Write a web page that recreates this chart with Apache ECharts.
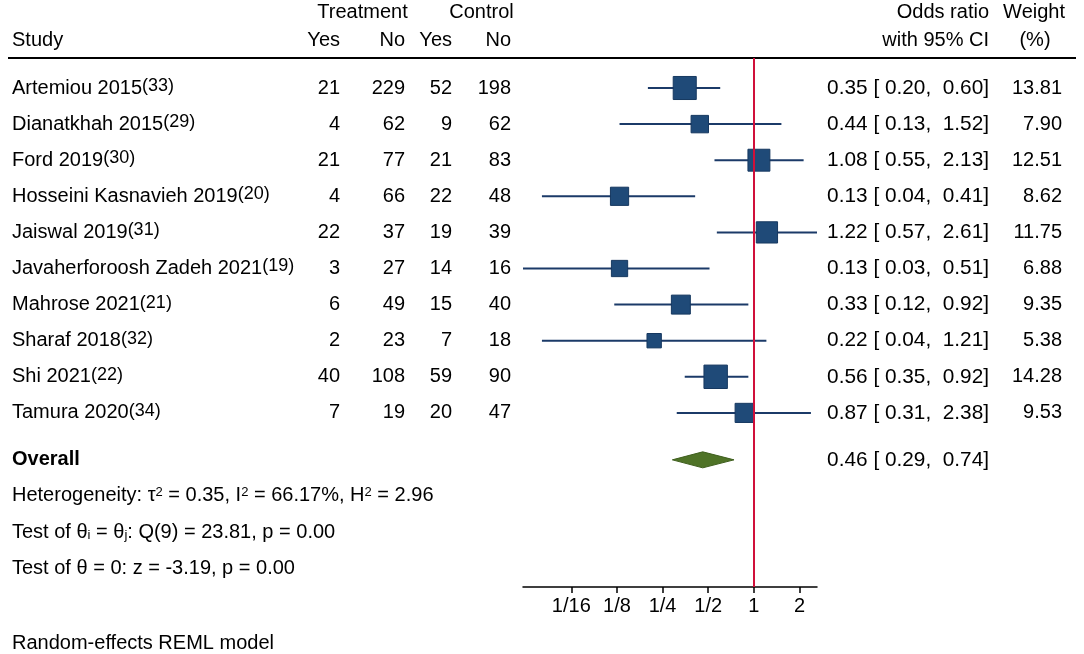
<!DOCTYPE html>
<html>
<head>
<meta charset="utf-8">
<script src="https://cdn.jsdelivr.net/npm/echarts@6/dist/echarts.min.js"></script>
<style>
  html, body { margin: 0; padding: 0; background: #fff; }
  #chart { width: 1084px; height: 654px; }
</style>
</head>
<body>
<div id="chart"></div>
<script>
// study table
var studies = ['Artemiou 2015', 'Dianatkhah 2015', 'Ford 2019', 'Hosseini Kasnavieh 2019', 'Jaiswal 2019',
    'Javaherforoosh Zadeh 2021', 'Mahrose 2021', 'Sharaf 2018', 'Shi 2021', 'Tamura 2020'];
var refs = ['33', '29', '30', '20', '31', '19', '21', '32', '22', '34'];
var treatYes = [21, 4, 21, 4, 22, 3, 6, 2, 40, 7];
var treatNo = [229, 62, 77, 66, 37, 27, 49, 23, 108, 19];
var ctrlYes = [52, 9, 21, 22, 19, 14, 15, 7, 59, 20];
var ctrlNo = [198, 62, 83, 48, 39, 16, 40, 18, 90, 47];
var oddsRatio = [0.35, 0.44, 1.08, 0.13, 1.22, 0.13, 0.33, 0.22, 0.56, 0.87];
var ciLow = [0.20, 0.13, 0.55, 0.04, 0.57, 0.03, 0.12, 0.04, 0.35, 0.31];
var ciHigh = [0.60, 1.52, 2.13, 0.41, 2.61, 0.51, 0.92, 1.21, 0.92, 2.38];
var weight = [13.81, 7.90, 12.51, 8.62, 11.75, 6.88, 9.35, 5.38, 14.28, 9.53];

// overall: estimate, low, high
var overallEst = [0.46, 0.29, 0.74];
var hetStats = [0.35, 66.17, 2.96];   // tau2, I2 (%), H2
var testQ = [9, 23.81, 0.00];        // df, Q, p
var testZ = [-3.19, 0.00];           // z, p

var tickValues = [1 / 16, 1 / 8, 1 / 4, 1 / 2, 1, 2];
var tickLabels = ['1/16', '1/8', '1/4', '1/2', '1', '2'];

// layout
var FONT = "'Liberation Sans', Arial, sans-serif";
var FS = 20;
var ROW_PX = 36.1;       // row spacing
var ROW0_PX = 88;        // first study row
var OVERALL_ROW = 10.3;
var col = { study: 12, tYes: 340, tNo: 405, cYes: 452, cNo: 511, ci: 989, w: 1062 };

function rowAt(px) { return (px - ROW0_PX) / ROW_PX; }
function f2(v) { return v.toFixed(2); }
function ciText(e, l, h) { return f2(e) + ' [ ' + f2(l) + ',  ' + f2(h) + ']'; }

var rich = {
    n: { fontSize: FS, fontFamily: FONT, fill: '#000' },
    c: { fontSize: 20.8, fontFamily: FONT, fill: '#000' },
    s: { fontSize: 18, fontFamily: FONT, fill: '#000', verticalAlign: 'top', padding: [0, 0, 4, 0] },
    p: { fontSize: 13, fontFamily: FONT, fill: '#000', verticalAlign: 'top' },
    b: { fontSize: 13, fontFamily: FONT, fill: '#000', verticalAlign: 'bottom' }
};

// text items for the table
var texts = [];
function addText(x, row, text, align, bold) {
    texts.push({ value: [x, row], text: text, align: align, bold: !!bold });
}
var hRow1 = rowAt(12), hRow2 = rowAt(40);
addText((col.tYes + col.tNo) / 2 - 10, hRow1, '{n|Treatment}', 'center');
addText((col.cYes + col.cNo) / 2, hRow1, '{n|Control}', 'center');
addText(col.study, hRow2, '{n|Study}', 'left');
addText(col.tYes, hRow2, '{n|Yes}', 'right');
addText(col.tNo, hRow2, '{n|No}', 'right');
addText(col.cYes, hRow2, '{n|Yes}', 'right');
addText(col.cNo, hRow2, '{n|No}', 'right');
addText(col.ci, hRow1, '{n|Odds ratio}', 'right');
addText(col.ci, hRow2, '{n|with 95% CI}', 'right');
addText(col.w + 3, hRow1, '{n|Weight}', 'right');
addText(col.w - 27, hRow2, '{n|(%)}', 'center');

studies.forEach(function (s, i) {
    addText(col.study, i, '{n|' + s + '}{s|(' + refs[i] + ')}', 'left');
    addText(col.tYes, i, '{n|' + treatYes[i] + '}', 'right');
    addText(col.tNo, i, '{n|' + treatNo[i] + '}', 'right');
    addText(col.cYes, i, '{n|' + ctrlYes[i] + '}', 'right');
    addText(col.cNo, i, '{n|' + ctrlNo[i] + '}', 'right');
    addText(col.ci, i, '{c|' + ciText(oddsRatio[i], ciLow[i], ciHigh[i]) + '}', 'right');
    addText(col.w, i, '{n|' + f2(weight[i]) + '}', 'right');
});

addText(col.study, OVERALL_ROW, 'Overall', 'left', true);
addText(col.ci, OVERALL_ROW, '{c|' + ciText(overallEst[0], overallEst[1], overallEst[2]) + '}', 'right');
addText(col.study, OVERALL_ROW + 1,
    '{n|Heterogeneity: τ}{p|2}{n| = ' + f2(hetStats[0]) + ', I}{p|2}{n| = ' + f2(hetStats[1]) +
    '%, H}{p|2}{n| = ' + f2(hetStats[2]) + '}', 'left');
addText(col.study, OVERALL_ROW + 2,
    '{n|Test of θ}{b|i}{n| = θ}{b|j}{n|: Q(' + testQ[0] + ') = ' + f2(testQ[1]) + ', p = ' + f2(testQ[2]) + '}', 'left');
addText(col.study, OVERALL_ROW + 3,
    '{n|Test of θ = 0: z = ' + f2(testZ[0]) + ', p = ' + f2(testZ[1]) + '}', 'left');
addText(col.study, rowAt(643), '{n|Random-effects REML model}', 'left');

// forest data in log2 units
var forestData = studies.map(function (s, i) {
    return [Math.log2(ciLow[i]), Math.log2(ciHigh[i]), Math.log2(oddsRatio[i]), i, weight[i]];
});
var overallData = [[Math.log2(overallEst[1]), Math.log2(overallEst[2]), Math.log2(overallEst[0]), OVERALL_ROW]];

var xMin = Math.log2(Math.min.apply(null, ciLow));
var xMax = Math.log2(Math.max.apply(null, ciHigh));
var tickLog = tickValues.map(function (v) { return Math.log2(v); });

var chart = echarts.init(document.getElementById('chart'), null, { renderer: 'canvas' });

var option = {
    backgroundColor: '#fff',
    animation: false,
    grid: [
        { left: 523, width: 294, top: 58, height: 529 },
        { left: 0, width: 1084, top: 0, height: 654 }
    ],
    xAxis: [
        {
            gridIndex: 0, type: 'value', min: xMin, max: xMax,
            splitLine: { show: false },
            axisLine: { show: true, onZero: false, lineStyle: { color: '#000', width: 1.5 } },
            axisTick: { show: true, length: 6, customValues: tickLog, lineStyle: { color: '#000', width: 1.5 } },
            axisLabel: {
                show: true, customValues: tickLog, margin: 9,
                color: '#000', fontSize: FS, fontFamily: FONT,
                formatter: function (v) {
                    for (var k = 0; k < tickLog.length; k++) {
                        if (Math.abs(tickLog[k] - v) < 1e-6) return tickLabels[k];
                    }
                    return '';
                }
            }
        },
        { gridIndex: 1, type: 'value', min: 0, max: 1084, show: false }
    ],
    yAxis: [
        { gridIndex: 0, type: 'value', inverse: true, min: rowAt(58), max: rowAt(587), show: false },
        { gridIndex: 1, type: 'value', inverse: true, min: rowAt(0), max: rowAt(654), show: false }
    ],
    series: [
        {
            // header rule
            type: 'custom', xAxisIndex: 1, yAxisIndex: 1, silent: true,
            data: [[8, 1076, rowAt(58)]],
            renderItem: function (params, api) {
                var a = api.coord([api.value(0), api.value(2)]);
                var b = api.coord([api.value(1), api.value(2)]);
                return { type: 'line', shape: { x1: a[0], y1: a[1], x2: b[0], y2: b[1] },
                    style: { stroke: '#000', lineWidth: 2 } };
            }
        },
        {
            type: 'custom', xAxisIndex: 1, yAxisIndex: 1, silent: true,
            data: texts,
            renderItem: function (params, api) {
                var t = texts[params.dataIndex];
                var p = api.coord(t.value);
                return {
                    type: 'text', x: p[0], y: p[1],
                    style: {
                        text: t.text, rich: rich,
                        fontSize: FS, fontFamily: FONT, fontWeight: t.bold ? 'bold' : 'normal',
                        fill: '#000', align: t.align, verticalAlign: 'middle'
                    }
                };
            }
        },
        {
            type: 'custom', xAxisIndex: 0, yAxisIndex: 0, silent: true, clip: false,
            data: forestData,
            renderItem: function (params, api) {
                var lo = api.coord([api.value(0), api.value(3)]);
                var hi = api.coord([api.value(1), api.value(3)]);
                var c = api.coord([api.value(2), api.value(3)]);
                var side = 6.2 * Math.sqrt(api.value(4));
                return {
                    type: 'group',
                    children: [
                        { type: 'line', shape: { x1: lo[0], y1: lo[1], x2: hi[0], y2: hi[1] },
                            style: { stroke: '#1b3a68', lineWidth: 2 } },
                        { type: 'rect', shape: { x: c[0] - side / 2, y: c[1] - side / 2, width: side, height: side },
                            style: { fill: '#1f4a78', stroke: '#163860', lineWidth: 1 } }
                    ]
                };
            },
            markLine: {
                silent: true, symbol: 'none', label: { show: false },
                lineStyle: { color: '#d0103a', width: 2, type: 'solid' },
                data: [{ xAxis: 0 }]
            }
        },
        {
            type: 'custom', xAxisIndex: 0, yAxisIndex: 0, silent: true,
            data: overallData,
            renderItem: function (params, api) {
                var lo = api.coord([api.value(0), api.value(3)]);
                var hi = api.coord([api.value(1), api.value(3)]);
                var c = api.coord([api.value(2), api.value(3)]);
                var h = 8;
                return {
                    type: 'polygon',
                    shape: { points: [[lo[0], lo[1]], [c[0], c[1] - h], [hi[0], hi[1]], [c[0], c[1] + h]] },
                    style: { fill: '#4f7327', stroke: '#3f5f1e', lineWidth: 1 }
                };
            }
        }
    ]
};
chart.setOption(option);
</script>
</body>
</html>
